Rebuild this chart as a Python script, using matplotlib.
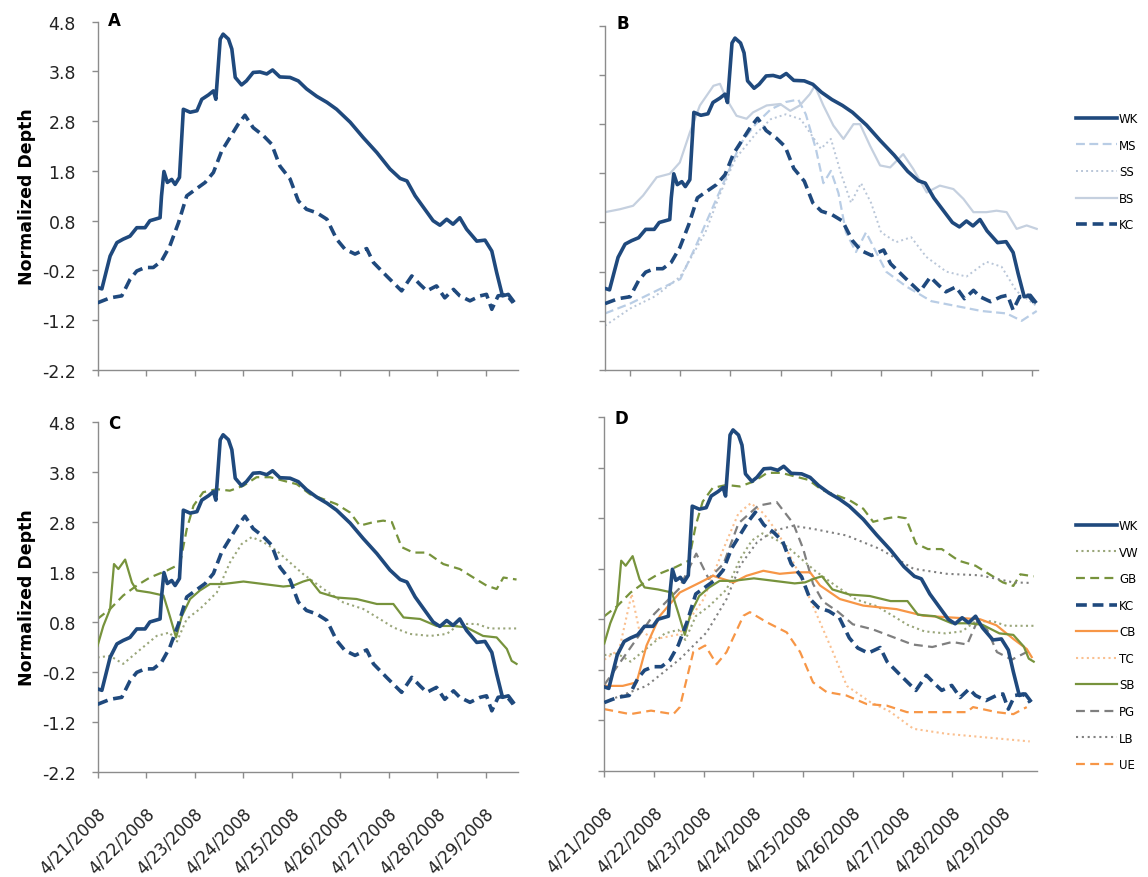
import matplotlib
matplotlib.use("Agg")
import matplotlib.pyplot as plt
from matplotlib.transforms import ScaledTranslation

# ---- data: (days since 4/21/2008 00:00, normalized depth) ----
WK = [(0, -0.54), (0.09, -0.57), (0.19, -0.18), (0.26, 0.09), (0.40, 0.36), (0.53, 0.43),
      (0.67, 0.49), (0.81, 0.66), (0.98, 0.66), (1.08, 0.80), (1.29, 0.86), (1.32, 1.30),
      (1.37, 1.79), (1.44, 1.57), (1.53, 1.63), (1.60, 1.53), (1.69, 1.67), (1.77, 3.04),
      (1.91, 2.98), (2.05, 3.01), (2.15, 3.24), (2.29, 3.33), (2.39, 3.41), (2.44, 3.24),
      (2.53, 4.45), (2.59, 4.55), (2.70, 4.45), (2.77, 4.25), (2.84, 3.68), (2.97, 3.53),
      (3.07, 3.61), (3.21, 3.78), (3.35, 3.79), (3.49, 3.75), (3.61, 3.83), (3.76, 3.69),
      (3.97, 3.68), (4.14, 3.61), (4.31, 3.45), (4.52, 3.30), (4.73, 3.18), (4.93, 3.04),
      (5.21, 2.78), (5.48, 2.47), (5.76, 2.17), (6.03, 1.84), (6.24, 1.65), (6.38, 1.60),
      (6.55, 1.30), (6.72, 1.07), (6.92, 0.80), (7.06, 0.71), (7.20, 0.83), (7.33, 0.73),
      (7.47, 0.86), (7.61, 0.63), (7.82, 0.39), (7.99, 0.41), (8.13, 0.19), (8.23, -0.24),
      (8.35, -0.71), (8.47, -0.68), (8.57, -0.81)]

KC = [(0, -0.85), (0.26, -0.75), (0.50, -0.71), (0.67, -0.38), (0.81, -0.21), (0.98, -0.14),
      (1.15, -0.14), (1.32, -0.01), (1.49, 0.29), (1.67, 0.76), (1.84, 1.30), (1.98, 1.40),
      (2.22, 1.57), (2.39, 1.77), (2.56, 2.20), (2.73, 2.47), (2.90, 2.74), (3.04, 2.92),
      (3.21, 2.67), (3.42, 2.51), (3.59, 2.34), (3.76, 1.90), (3.97, 1.64), (4.14, 1.20),
      (4.31, 1.03), (4.52, 0.96), (4.73, 0.83), (4.93, 0.43), (5.10, 0.23), (5.31, 0.13),
      (5.55, 0.24), (5.69, -0.04), (5.96, -0.31), (6.27, -0.61), (6.48, -0.31), (6.65, -0.48),
      (6.79, -0.61), (6.99, -0.51), (7.16, -0.75), (7.34, -0.58), (7.47, -0.71), (7.68, -0.81),
      (7.89, -0.71), (8.02, -0.68), (8.13, -0.98), (8.26, -0.71), (8.43, -0.68), (8.57, -0.85)]

MS = [(0, -1.05), (0.5, -0.85), (1.0, -0.6), (1.5, -0.35), (1.8, 0.3), (2.1, 1.0),
      (2.4, 1.7), (2.7, 2.4), (3.0, 2.8), (3.3, 3.1), (3.6, 3.25), (3.85, 3.3),
      (4.0, 3.0), (4.2, 2.3), (4.35, 1.6), (4.5, 1.85), (4.65, 1.4), (4.8, 0.6),
      (5.0, 0.2), (5.2, 0.6), (5.35, 0.3), (5.6, -0.2), (6.0, -0.5), (6.5, -0.8),
      (7.0, -0.9), (7.5, -1.0), (8.0, -1.05), (8.3, -1.2), (8.6, -1.0)]

SS = [(0, -1.3), (0.5, -0.95), (1.0, -0.7), (1.5, -0.3), (2.0, 0.6), (2.3, 1.4),
      (2.6, 2.1), (3.0, 2.6), (3.3, 2.9), (3.6, 3.0), (3.9, 2.9), (4.1, 2.6),
      (4.3, 2.3), (4.5, 2.5), (4.7, 1.8), (4.9, 1.2), (5.1, 1.6), (5.3, 1.2),
      (5.5, 0.6), (5.8, 0.4), (6.1, 0.5), (6.4, 0.1), (6.8, -0.2), (7.2, -0.3),
      (7.6, 0.0), (7.9, -0.1), (8.2, -0.6), (8.6, -0.9)]

BS = [(0, 1.01), (0.30, 1.07), (0.56, 1.14), (0.76, 1.35), (1.03, 1.72), (1.29, 1.79),
      (1.49, 2.02), (1.69, 2.63), (1.89, 3.18), (2.16, 3.58), (2.29, 3.62), (2.42, 3.31),
      (2.62, 2.97), (2.82, 2.91), (2.95, 3.04), (3.22, 3.18), (3.49, 3.21), (3.69, 3.07),
      (3.88, 3.18), (4.08, 3.41), (4.18, 3.58), (4.35, 3.18), (4.55, 2.77), (4.75, 2.50),
      (4.95, 2.80), (5.08, 2.80), (5.28, 2.36), (5.48, 1.96), (5.68, 1.92), (5.94, 2.19),
      (6.14, 1.89), (6.41, 1.41), (6.67, 1.55), (6.94, 1.48), (7.14, 1.28), (7.34, 1.01),
      (7.60, 1.01), (7.80, 1.04), (8.00, 1.01), (8.20, 0.67), (8.40, 0.74), (8.60, 0.67)]

GB = [(0, 0.86), (0.26, 1.06), (0.53, 1.33), (0.81, 1.53), (1.08, 1.69), (1.43, 1.83),
      (1.70, 1.96), (1.84, 2.66), (1.98, 3.13), (2.18, 3.40), (2.46, 3.46), (2.73, 3.43),
      (3.01, 3.53), (3.28, 3.70), (3.56, 3.70), (3.83, 3.63), (4.11, 3.56), (4.38, 3.36),
      (4.66, 3.26), (4.93, 3.16), (5.21, 2.99), (5.41, 2.73), (5.69, 2.80), (5.89, 2.83),
      (6.07, 2.80), (6.27, 2.30), (6.51, 2.19), (6.79, 2.19), (7.13, 1.96), (7.47, 1.86),
      (7.75, 1.69), (8.02, 1.53), (8.23, 1.46), (8.37, 1.69), (8.64, 1.65)]

SB = [(0, 0.32), (0.12, 0.72), (0.26, 1.06), (0.34, 1.96), (0.43, 1.86), (0.57, 2.05),
      (0.71, 1.59), (0.81, 1.43), (1.08, 1.39), (1.36, 1.33), (1.49, 0.92), (1.62, 0.49),
      (1.74, 0.92), (1.91, 1.26), (2.11, 1.43), (2.32, 1.56), (2.59, 1.56), (3.01, 1.61),
      (3.42, 1.56), (3.83, 1.51), (4.04, 1.53), (4.24, 1.61), (4.38, 1.65), (4.59, 1.39),
      (4.93, 1.29), (5.34, 1.26), (5.76, 1.16), (6.10, 1.16), (6.31, 0.89), (6.65, 0.86),
      (6.99, 0.72), (7.34, 0.72), (7.61, 0.69), (7.95, 0.52), (8.23, 0.49), (8.44, 0.26),
      (8.54, 0.02), (8.64, -0.04)]

VW = [(0, 0.09), (0.26, 0.12), (0.53, -0.04), (0.81, 0.19), (1.22, 0.52), (1.49, 0.59),
      (1.63, 0.39), (1.84, 0.86), (2.11, 1.06), (2.46, 1.39), (2.73, 1.99), (2.97, 2.36),
      (3.18, 2.50), (3.42, 2.40), (3.69, 2.23), (3.97, 1.99), (4.24, 1.76), (4.66, 1.46),
      (5.07, 1.19), (5.48, 1.06), (5.82, 0.86), (6.10, 0.69), (6.44, 0.56), (6.86, 0.52),
      (7.20, 0.56), (7.47, 0.76), (7.82, 0.76), (8.09, 0.67), (8.64, 0.67)]

CB = [(0, -0.52), (0.37, -0.52), (0.65, -0.45), (0.85, 0.28), (1.12, 0.87), (1.52, 1.33),
      (1.93, 1.53), (2.19, 1.66), (2.60, 1.53), (2.86, 1.66), (3.20, 1.76), (3.53, 1.70),
      (3.87, 1.73), (4.14, 1.73), (4.34, 1.47), (4.74, 1.20), (5.21, 1.07), (5.88, 1.00),
      (6.42, 0.87), (6.89, 0.84), (7.56, 0.80), (7.89, 0.68), (8.23, 0.41), (8.50, 0.21),
      (8.60, 0.05)]

TC = [(0, 0.0), (0.3, 0.2), (0.55, 1.3), (0.7, 0.6), (1.0, 0.4), (1.5, 0.5),
      (2.0, 1.2), (2.4, 2.2), (2.7, 2.9), (2.95, 3.1), (3.2, 2.9), (3.5, 2.5),
      (3.87, 1.8), (4.2, 1.06), (4.6, 0.15), (4.88, -0.52), (5.35, -0.84), (5.75, -1.03),
      (6.22, -1.37), (6.89, -1.47), (7.56, -1.53), (8.56, -1.62)]

PG = [(0, -0.5), (0.5, 0.2), (1.0, 0.9), (1.5, 1.4), (1.85, 2.1), (2.1, 1.6),
      (2.4, 1.9), (2.7, 2.7), (3.1, 3.05), (3.47, 3.12), (3.8, 2.7), (4.0, 2.2),
      (4.2, 1.5), (4.4, 1.15), (4.7, 0.95), (5.0, 0.7), (5.4, 0.6), (5.8, 0.45),
      (6.2, 0.3), (6.6, 0.25), (7.0, 0.35), (7.3, 0.3), (7.5, 0.75), (7.7, 0.6),
      (7.9, 0.15), (8.2, 0.0), (8.6, 0.2)]

LB = [(0, -0.84), (0.85, -0.52), (1.52, 0.01), (2.06, 0.54), (2.46, 1.20), (2.73, 1.86),
      (3.07, 2.32), (3.40, 2.55), (3.80, 2.65), (4.20, 2.59), (4.87, 2.46), (5.55, 2.19),
      (6.22, 1.80), (6.89, 1.70), (7.56, 1.67), (8.23, 1.53), (8.56, 1.52)]

UE = [(0, -0.98), (0.52, -1.08), (0.94, -1.01), (1.39, -1.08), (1.52, -0.94), (1.79, 0.15),
      (2.03, 0.28), (2.26, -0.09), (2.46, 0.15), (2.80, 0.87), (2.93, 0.94), (3.27, 0.74),
      (3.67, 0.54), (3.94, 0.15), (4.20, -0.45), (4.47, -0.64), (4.87, -0.71), (5.28, -0.88),
      (5.68, -0.91), (6.09, -1.04), (6.89, -1.04), (7.29, -1.04), (7.42, -0.94), (7.89, -1.04),
      (8.23, -1.08), (8.50, -0.94)]

DATE_LABELS = ['4/21/2008', '4/22/2008', '4/23/2008', '4/24/2008', '4/25/2008',
               '4/26/2008', '4/27/2008', '4/28/2008', '4/29/2008']
Y_TICKS = [4.8, 3.8, 2.8, 1.8, 0.8, -0.2, -1.2, -2.2]

# ---- styles ----
NAVY = '#1f497d'
STYLE = {
    'WK': dict(color=NAVY, lw=2.6, ls='-', z=4),
    'KC': dict(color=NAVY, lw=2.6, ls=(0, (3, 1.6)), z=4),
    'MS': dict(color='#b9cde5', lw=1.6, ls=(0, (4, 2)), z=2),
    'SS': dict(color='#b9c6d8', lw=1.4, ls=(0, (1, 1.6)), z=2),
    'BS': dict(color='#c5d0df', lw=1.6, ls='-', z=2),
    'VW': dict(color='#9aa67a', lw=1.5, ls=(0, (1, 1.6)), z=2),
    'GB': dict(color='#77933c', lw=1.6, ls=(0, (4, 2.4)), z=2),
    'CB': dict(color='#f79646', lw=1.6, ls='-', z=3),
    'TC': dict(color='#fac090', lw=1.5, ls=(0, (1, 1.6)), z=2),
    'SB': dict(color='#77933c', lw=1.6, ls='-', z=3),
    'PG': dict(color='#7f7f7f', lw=1.6, ls=(0, (4, 2.4)), z=2),
    'LB': dict(color='#808080', lw=1.5, ls=(0, (1, 1.8)), z=2),
    'UE': dict(color='#f79646', lw=1.6, ls=(0, (4, 2.4)), z=2),
}
SERIES = {'WK': WK, 'KC': KC, 'MS': MS, 'SS': SS, 'BS': BS, 'VW': VW, 'GB': GB,
          'CB': CB, 'TC': TC, 'SB': SB, 'PG': PG, 'LB': LB, 'UE': UE}

W, H = 1148, 878
fig = plt.figure(figsize=(W / 100, H / 100), dpi=100)
plt.rcParams['font.family'] = ['DejaVu Sans']


def px_axes(left, top, right, bottom):
    return fig.add_axes([left / W, 1 - bottom / H, (right - left) / W, (bottom - top) / H])


SPINE = '#8c8c8c'


def setup(ax, xmax, xticks, ylabels, xlabels):
    ax.set_xlim(0, xmax)
    ax.set_ylim(-2.2, 4.8)
    for s in ('top', 'right'):
        ax.spines[s].set_visible(False)
    for s in ('left', 'bottom'):
        ax.spines[s].set_color(SPINE)
        ax.spines[s].set_linewidth(1.0)
    ax.set_yticks(Y_TICKS)
    ax.set_xticks(xticks)
    ax.tick_params(axis='both', direction='out', length=4.5, width=1.0, color=SPINE)
    ax.tick_params(axis='y', pad=11, labelsize=12.5, labelcolor='#222222')
    if ylabels:
        ax.set_yticklabels(['%.1f' % v for v in Y_TICKS])
    else:
        ax.set_yticklabels([])
    if xlabels:
        ax.set_xticklabels(DATE_LABELS, rotation=45, ha='right', va='top',
                           rotation_mode='anchor', fontsize=12, color='#222222')
        ax.tick_params(axis='x', pad=19)
        off = ScaledTranslation(-1 / 100, 0, fig.dpi_scale_trans)
        for lbl in ax.get_xticklabels():
            lbl.set_transform(lbl.get_transform() + off)
    else:
        ax.set_xticklabels([])


def draw(ax, names):
    lines = {}
    for n in names:
        t, v = zip(*SERIES[n])
        st = STYLE[n]
        ln, = ax.plot(t, v, color=st['color'], lw=st['lw'], ls=st['ls'],
                      zorder=st['z'], label=n, solid_joinstyle='round',
                      dash_capstyle='butt')
        lines[n] = ln
    return lines


axA = px_axes(97.5, 22.7, 517.7, 371)
axB = px_axes(605, 26.8, 1038, 371)
axC = px_axes(97.5, 423.3, 517.7, 772.7)
axD = px_axes(604.3, 418.3, 1036.7, 771.7)

days = list(range(len(DATE_LABELS)))
setup(axA, 420.2 / 48.5, days, True, False)
setup(axB, 433 / 50.2, [d + 0.5 for d in days], False, False)
setup(axC, 420.2 / 48.5, days, True, True)
setup(axD, 432.4 / 49.7, days, False, True)

draw(axA, ['WK', 'KC'])
lb = draw(axB, ['WK', 'MS', 'SS', 'BS', 'KC'])
draw(axC, ['WK', 'VW', 'GB', 'KC', 'SB'])
ld = draw(axD, ['WK', 'VW', 'GB', 'KC', 'CB', 'TC', 'SB', 'PG', 'LB', 'UE'])

leg_kw = dict(loc='upper left', frameon=False, fontsize=8.5, handlelength=3.5,
              handletextpad=0.15, labelspacing=1.15, borderpad=0, borderaxespad=0)
order_b = ['WK', 'MS', 'SS', 'BS', 'KC']
fig.legend([lb[n] for n in order_b], order_b,
           bbox_to_anchor=(1076 / W, 1 - 113 / H), **leg_kw)
order_d = ['WK', 'VW', 'GB', 'KC', 'CB', 'TC', 'SB', 'PG', 'LB', 'UE']
fig.legend([ld[n] for n in order_d], order_d,
           bbox_to_anchor=(1076 / W, 1 - 520 / H), **leg_kw)

# panel letters
for letter, x, y in (('A', 108, 12), ('B', 616, 15), ('C', 108, 415), ('D', 615, 410)):
    fig.text(x / W, 1 - y / H, letter, fontsize=12, fontweight='bold', ha='left', va='top')

# y axis titles
for yc in ((22.7 + 371) / 2, (423.3 + 772.7) / 2):
    fig.text(27 / W, 1 - yc / H, 'Normalized Depth', rotation=90, fontsize=12.5,
             fontweight='bold', ha='center', va='center')

fig.savefig('out.png', dpi=100, facecolor='white')
